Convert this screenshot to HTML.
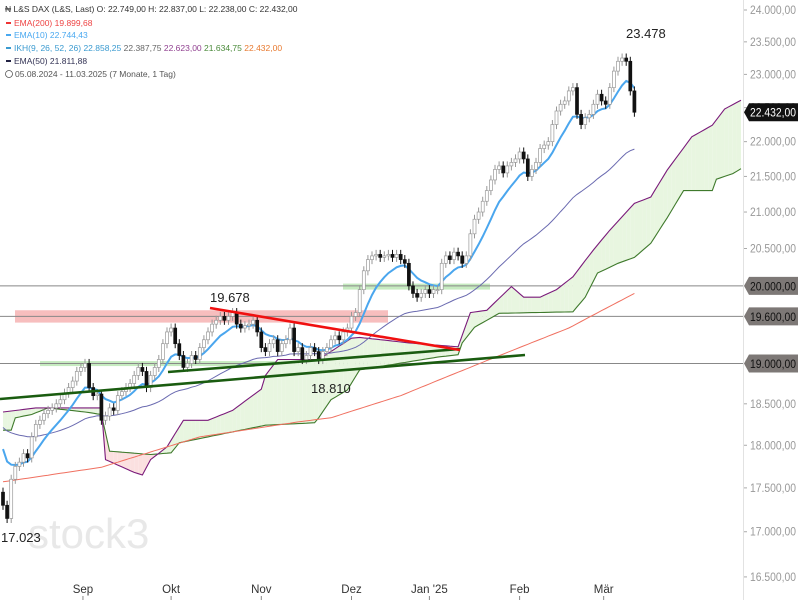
<!DOCTYPE html>
<html><head><meta charset="utf-8">
<style>
html,body{margin:0;padding:0;background:#fff;}
body{width:800px;height:600px;overflow:hidden;font-family:"Liberation Sans",sans-serif;}
svg text{font-family:"Liberation Sans",sans-serif;}
</style></head>
<body>
<svg id="chart" width="800" height="600" viewBox="0 0 800 600" xmlns="http://www.w3.org/2000/svg">
  <rect x="0" y="0" width="800" height="600" fill="#fff"/>
  <text x="28" y="548" font-size="42" fill="#e8e8e8">stock3</text>
  <g id="bands"></g>
  <g id="cloud"></g>
  <g id="lines"></g>
  <g id="candles"></g>
  <g id="trend"></g>
  <g id="axis"></g>
  <g id="xaxis"></g>
  <g font-size="8.5">
    <text x="5" y="12" fill="#333">₦ L&amp;S DAX (L&amp;S, Last)  O: 22.749,00  H: 22.837,00  L: 22.238,00  C: 22.432,00</text>
    <rect x="6" y="22" width="5" height="2" fill="#e33"/><text x="14" y="26" fill="#e44">EMA(200)  19.899,68</text>
    <rect x="6" y="34" width="5" height="2" fill="#49a8f0"/><text x="14" y="38" fill="#49a8f0">EMA(10)  22.744,43</text>
    <rect x="6" y="47" width="5" height="2" fill="#3a9ad0"/><text x="14" y="51" fill="#3a9ad0">IKH(9, 26, 52, 26)  22.858,25  <tspan fill="#666">22.387,75</tspan>  <tspan fill="#904090">22.623,00</tspan>  <tspan fill="#4a8a3a">21.634,75</tspan>  <tspan fill="#e87a30">22.432,00</tspan></text>
    <rect x="6" y="60" width="5" height="2" fill="#224"/><text x="14" y="64" fill="#335">EMA(50)  21.811,88</text>
    <circle cx="9" cy="74" r="3.5" fill="none" stroke="#555" stroke-width="0.8"/>
    <text x="15" y="77" fill="#555">05.08.2024 - 11.03.2025   (7 Monate, 1 Tag)</text>
  </g>
</svg>
<script>
const closes=[17300,17150,17600,17750,17800,17900,17850,18100,18250,18300,18380,18420,18450,18500,18550,18630,18700,18780,18900,18950,
19000,18700,18600,18620,18300,18350,18450,18420,18600,18650,18700,18750,18850,18950,18900,18700,18850,18950,19050,19250,
19400,19450,19250,19100,18950,19000,19100,19050,19200,19300,19400,19500,19550,19600,19550,19600,19650,19500,19450,19480,
19500,19550,19400,19200,19150,19250,19300,19150,19250,19300,19450,19150,19200,19050,19100,19200,19150,19050,19150,19200,
19300,19350,19300,19400,19450,19600,19650,19950,20200,20350,20400,20420,20380,20400,20420,20380,20420,20350,20300,20000,
19900,19850,19900,19950,19900,19950,19950,20300,20400,20350,20450,20400,20300,20400,20700,20900,21000,21150,21300,21450,
21600,21650,21550,21650,21700,21750,21850,21750,21500,21600,21700,21900,21950,22000,22250,22450,22550,22600,22750,22800,
22400,22250,22350,22400,22550,22700,22600,22550,22800,23050,23200,23250,23200,22750,22432];
const firstOpen=17450;
const spanAIdx=[0,8,24,25,32,34,36,40,44,50,56,63,64,67,77,85,87,99,111,114,118,124,127,131,135,139,144,148,154,158,162,168,173,176,180];
const spanAVal=[18400,18450,18450,17830,17680,17650,17830,17980,18300,18300,18420,18680,18850,19050,19050,19320,19330,19260,19210,19650,19680,19990,19850,19850,19950,20120,20480,20750,21120,21210,21590,22070,22240,22480,22610];
const spanBIdx=[0,2,3,7,11,20,24,26,36,41,43,64,76,77,80,84,87,106,111,112,115,121,139,142,145,150,154,158,162,166,173,174,178,180];
const spanBVal=[18180,18180,18330,18370,18450,18400,18370,17930,17890,17910,18030,18240,18270,18330,18550,18670,18920,19080,19110,19260,19460,19640,19660,19850,20170,20300,20380,20570,20920,21300,21300,21460,21540,21610];
const ema200Idx=[0,24,48,72,80,97,138,154];
const ema200Val=[17570,17740,18100,18280,18330,18600,19450,19900];
const yTicks=[24000,23500,23000,22500,22000,21500,21000,20500,18500,18000,17500,17000,16500];
const yTickLabels=["24.000,00","23.500,00","23.000,00","22.500,00","22.000,00","21.500,00","21.000,00","20.500,00","18.500,00","18.000,00","17.500,00","17.000,00","16.500,00"];
const hLines=[20000,19600,19000];
const hLineLabels=["20.000,00","19.600,00","19.000,00"];
const monthIdx=[19.5,41,63,85,104,126,146.5];
const monthLabels=["Sep","Okt","Nov","Dez","Jan '25","Feb","Mär"];

const NS="http://www.w3.org/2000/svg";
const X=i=>3+i*4.1;
const Y=v=>10+Math.log(24000/v)*1513;
function mk(tag,attrs,parent){const e=document.createElementNS(NS,tag);for(const k in attrs)e.setAttribute(k,attrs[k]);parent.appendChild(e);return e;}
const G=id=>document.getElementById(id);

function interp(idx,val,i){if(i<=idx[0])return val[0];for(let k=1;k<idx.length;k++){if(i<=idx[k]){const t=(i-idx[k-1])/(idx[k]-idx[k-1]);return val[k-1]+t*(val[k]-val[k-1]);}}return val[val.length-1];}

const bands=G('bands');
let r=mk('rect',{x:15,y:Y(19680),width:373,height:Y(19520)-Y(19680),fill:'#f4a8a8',opacity:0.75},bands);


r=mk('rect',{x:40,y:Y(19030),width:360,height:5,fill:'#b8e6b0',opacity:0.8},bands);


r=mk('rect',{x:343,y:Y(20030),width:147,height:6,fill:'#b8e6b0',opacity:0.8},bands);


hLines.forEach((v,k)=>{const l=mk('line',{x1:0,x2:744,y1:Y(v),y2:Y(v),stroke:'#888','stroke-width':1},bands);

});

const cloud=G('cloud');
for(let i=0;i<180;i++){
  const a0=interp(spanAIdx,spanAVal,i),a1=interp(spanAIdx,spanAVal,i+1),b0=interp(spanBIdx,spanBVal,i),b1=interp(spanBIdx,spanBVal,i+1);
  const p=mk('polygon',{points:`${X(i)},${Y(a0)} ${X(i+1)},${Y(a1)} ${X(i+1)},${Y(b1)} ${X(i)},${Y(b0)}`,fill:(a0+a1>=b0+b1)?'#e8f6e0':'#fbe0e0',stroke:'none'},cloud);
  
  
}
function pathFrom(idx,val,step){let d='';for(let i=idx[0];i<=idx[idx.length-1];i+=step){d+=(d?'L':'M')+X(i).toFixed(1)+','+Y(interp(idx,val,i)).toFixed(1);}return d;}
const lines=G('lines');
let p=mk('path',{d:pathFrom(spanBIdx,spanBVal,1),fill:'none',stroke:'#3f7a2c','stroke-width':1.1},lines);


p=mk('path',{d:pathFrom(spanAIdx,spanAVal,1),fill:'none',stroke:'#7a1a7a','stroke-width':1.1},lines);


p=mk('path',{d:pathFrom(ema200Idx,ema200Val,1),fill:'none',stroke:'#f07060','stroke-width':1},lines);



function ema(n,seed){const a=2/(n+1);let e=seed;return closes.map(c=>(e=e+a*(c-e)));}
function pathArr(arr){return arr.map((v,i)=>(i?'L':'M')+X(i).toFixed(1)+','+Y(v).toFixed(1)).join('');}
p=mk('path',{d:pathArr(ema(50,18250)),fill:'none',stroke:'#6a6ab0','stroke-width':1},lines);


p=mk('path',{d:pathArr(ema(10,18100)),fill:'none',stroke:'#4aa6ee','stroke-width':2},lines);



const cg=G('candles');
closes.forEach((c,i)=>{
  const o=i?closes[i-1]:firstOpen;
  const up=c>=o, hi=Math.max(o,c)*1.003, lo=Math.min(o,c)*0.997;
  const x=X(i);
  const w=mk('line',{x1:x,x2:x,y1:Y(hi),y2:Y(lo),stroke:up?'#999':'#111','stroke-width':1},cg);
  
  
  const top=Y(Math.max(o,c)),h=Math.max(1,Y(Math.min(o,c))-top);
  const b=mk('rect',{x:x-1.5,y:top,width:3,height:h,fill:up?'#fff':'#111',stroke:up?'#999':'#111','stroke-width':0.7},cg);
  
  
});

const tg=G('trend');
[[0,399,525,355,'#1a5c10','support-trendline-lower'],[168,372,460,349,'#1a5c10','support-trendline-upper'],[210,308,460,350,'#f01010','resistance-trendline']].forEach(t=>{
  const l=mk('line',{x1:t[0],y1:t[1],x2:t[2],y2:t[3],stroke:t[4],'stroke-width':2.6},tg);
  
  
});
[[210,302,'19.678','label-high-oct'],[626,38,'23.478','label-high-mar'],[311,393,'18.810','label-low-nov'],[1,542,'17.023','label-low-aug']].forEach(t=>{
  const e=mk('text',{x:t[0],y:t[1],'font-size':13,fill:'#222'},tg);e.textContent=t[2];
  
  
});

const ax=G('axis');
mk('line',{x1:743.5,x2:743.5,y1:0,y2:600,stroke:'#e2e2e2','stroke-width':1},ax);
yTicks.forEach((v,k)=>{
  mk('line',{x1:744,x2:747,y1:Y(v),y2:Y(v),stroke:'#aaa'},ax);
  const t=mk('text',{x:750,y:Y(v)+4,'font-size':11.5,fill:'#999',textLength:46,lengthAdjust:'spacingAndGlyphs'},ax);t.textContent=yTickLabels[k];
  
  
});
function box(v,label,fill,col,name){
  const y=Y(v);
  const b=mk('polygon',{points:`744,${y} 749,${y-9} 798,${y-9} 798,${y+9} 749,${y+9}`,fill:fill},ax);
  
  
  const t=mk('text',{x:750,y:y+4.5,'font-size':12,fill:col,textLength:46,lengthAdjust:'spacingAndGlyphs'},ax);t.textContent=label;
  
  
}
hLines.forEach((v,k)=>box(v,hLineLabels[k],'#7d7876','#111','hline-label-'+v));
box(closes[closes.length-1],'22.432,00','#111','#fff','last-price-label');

const xg=G('xaxis');
monthIdx.forEach((m,k)=>{
  const x=X(m);
  mk('line',{x1:x,x2:x,y1:596,y2:600,stroke:'#888'},xg);
  const t=mk('text',{x:x,y:593,'font-size':11.5,fill:'#333','text-anchor':'middle'},xg);t.textContent=monthLabels[k];
  
  
});
</script>
</body></html>
